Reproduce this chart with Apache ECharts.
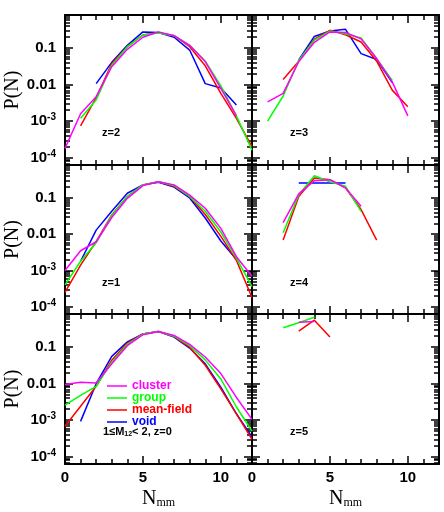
<!DOCTYPE html>
<html><head><meta charset="utf-8">
<script src="https://cdn.jsdelivr.net/npm/echarts@6/dist/echarts.min.js"></script>
<style>html,body{margin:0;padding:0;background:#fff}#c{width:444px;height:512px}</style>
</head><body><div id="c"></div>
<script>
// N_mm values (x) shared by all panels
const N = [0,1,2,3,4,5,6,7,8,9,10,11,12];

// P(N) values, index = N ; null = no point
const z2_cluster   = [1.8e-4,1.6e-3,4.7e-3,0.031,0.093,0.20,0.28,0.22,0.12,0.043,0.0079,0.0014,null];
const z2_group     = [null,1.2e-3,3.8e-3,0.034,0.11,0.23,0.26,0.22,0.12,0.044,0.0093,0.0014,1.6e-4];
const z2_meanfield = [null,7.4e-4,4.4e-3,0.038,0.11,0.23,0.27,0.22,0.11,0.033,0.0058,0.0012,2.0e-4];
const z2_void      = [null,null,0.0107,0.041,0.12,0.28,0.27,0.20,0.089,0.0107,0.0081,0.0028,null];

const z3_cluster   = [null,3.4e-3,5.8e-3,0.043,0.145,0.28,0.27,0.18,0.052,0.012,0.0014,null,null];
const z3_group     = [null,1.0e-3,4.9e-3,0.047,0.166,0.295,0.25,0.19,0.052,0.013,null,null,null];
const z3_meanfield = [null,null,0.0138,0.044,0.178,0.31,0.234,0.148,0.044,0.0071,0.0025,null,null];
const z3_void      = [null,null,null,0.048,0.21,0.295,0.33,0.071,0.049,0.0115,null,null,null];

const z1_cluster   = [1.0e-3,3.5e-3,6.2e-3,0.029,0.098,0.22,0.28,0.23,0.12,0.052,0.0145,0.0024,6.9e-4];
const z1_group     = [4.0e-4,1.8e-3,5.8e-3,0.033,0.11,0.23,0.28,0.22,0.11,0.043,0.0115,0.0022,3.6e-4];
const z1_meanfield = [2.5e-4,1.4e-3,6.3e-3,0.034,0.11,0.23,0.28,0.21,0.11,0.035,0.0087,0.0019,1.8e-4];
const z1_void      = [null,1.8e-3,0.013,0.043,0.135,0.23,0.27,0.20,0.10,0.028,0.0065,0.0020,null];

const z4_cluster   = [null,null,0.021,0.13,0.30,0.32,0.19,0.059,null,null,null,null,null];
const z4_group     = [null,null,0.011,0.123,0.41,0.28,0.21,0.043,null,null,null,null,null];
const z4_meanfield = [null,null,0.0069,0.11,0.355,0.32,0.19,0.048,0.0069,null,null,null,null];
const z4_void      = [null,null,null,0.26,0.26,0.26,0.26,null,null,null,null,null,null];

const z0_cluster   = [0.0095,0.011,0.0105,0.035,0.11,0.22,0.27,0.21,0.12,0.054,0.019,0.0042,0.00105];
const z0_group     = [0.0026,0.0048,0.0085,0.039,0.12,0.23,0.27,0.20,0.11,0.045,0.0135,0.0023,5.0e-4];
const z0_meanfield = [6.8e-4,2.4e-3,8.5e-3,0.044,0.13,0.23,0.27,0.195,0.10,0.032,0.0072,0.0015,3.0e-4];
const z0_void      = [null,9.3e-4,0.010,0.056,0.14,0.23,0.27,0.19,0.095,0.035,0.0081,0.0015,3.5e-4];

const z5_cluster   = [null,null,null,0.48,0.51,null,null,null,null,null,null,null,null];
const z5_group     = [null,null,0.34,0.47,0.66,null,null,null,null,null,null,null,null];
const z5_meanfield = [null,null,null,0.275,0.55,0.19,null,null,null,null,null,null,null];
const z5_void      = [null,null,null,null,null,null,null,null,null,null,null,null,null];

// tick labels
const yTickValues = [-4,-3,-2,-1];              // log10 P(N)
const yTickLabels = ['10{s|-4}','10{s|-3}','0.01','0.1'];
const xTickValues = [0,5,10];
const xTickLabels = ['0','5','10'];
const seriesNames = ['cluster','group','mean-field','void'];
const panelLabels = ['z=2','z=3','z=1','z=4','','z=5'];
const noteText = '{a|1≤M}{b|12}{a|< 2, z=0}';

const panelData = [
  [z2_cluster,z2_group,z2_meanfield,z2_void],
  [z3_cluster,z3_group,z3_meanfield,z3_void],
  [z1_cluster,z1_group,z1_meanfield,z1_void],
  [z4_cluster,z4_group,z4_meanfield,z4_void],
  [z0_cluster,z0_group,z0_meanfield,z0_void],
  [z5_cluster,z5_group,z5_meanfield,z5_void]
];

// ---- styling / layout ----
const COLORS = ['#ff00ff','#00ff00','#ff0000','#0000ff'];
const SANS = '"Liberation Sans", Arial, sans-serif';
const SERIF = '"Liberation Serif", "Times New Roman", serif';
const LEFTS = [65, 252], W = 187;
const TOPS = [15, 165, 314], HS = [150, 149, 150];
const YMIN = -4.2, YMAX = -0.09;

const xMinor = [1,2,3,4,6,7,8,9,11];
const yMinor = [];
for (let n = -5; n <= -1; n++) for (let k = 2; k <= 9; k++) {
  const v = n + Math.log10(k);
  if (v > YMIN && v < YMAX) yMinor.push(v);
}

const grid = [], xAxis = [], yAxis = [], series = [], graphic = [];
panelData.forEach((sets, i) => {
  const r = Math.floor(i / 2), c = i % 2;
  grid.push({left: LEFTS[c], top: TOPS[r], width: W, height: HS[r]});
  const xa = (pos, major) => {
    const lab = major && pos === 'bottom' && r === 2;
    return {
      gridIndex: i, type: 'value', min: 0, max: 12, position: pos,
      axisLine: {show: major, onZero: false, lineStyle: {color: '#000', width: 2}},
      axisTick: {show: true, inside: true, length: major ? 8 : 5,
        customValues: major ? xTickValues : xMinor, lineStyle: {color: '#000', width: 1.5}},
      axisLabel: {show: lab, customValues: xTickValues, margin: 6, color: '#000',
        fontFamily: SANS, fontWeight: 'bold', fontSize: 15,
        formatter: v => xTickLabels[xTickValues.indexOf(Math.round(v))]},
      splitLine: {show: false},
      name: lab ? '{n|N}{m|mm}' : '', nameLocation: 'middle', nameGap: 25,
      nameTextStyle: {color: '#000', rich: {
        n: {fontFamily: SERIF, fontSize: 20, lineHeight: 20, color: '#000'},
        m: {fontFamily: SERIF, fontSize: 12, lineHeight: 12, verticalAlign: 'bottom', color: '#000'}}}
    };
  };
  const ya = (pos, major) => {
    const lab = major && pos === 'left' && c === 0;
    return {
      gridIndex: i, type: 'value', min: YMIN, max: YMAX, position: pos,
      axisLine: {show: major, onZero: false, lineStyle: {color: '#000', width: 2}},
      axisTick: {show: true, inside: true, length: major ? 8 : 5,
        customValues: major ? yTickValues : yMinor, lineStyle: {color: '#000', width: 1.5}},
      axisLabel: {show: lab, customValues: yTickValues, margin: 9, color: '#000',
        fontFamily: SANS, fontWeight: 'bold', fontSize: 15, lineHeight: 17,
        formatter: v => yTickLabels[yTickValues.indexOf(Math.round(v))],
        rich: {s: {fontFamily: SANS, fontWeight: 'bold', fontSize: 10, lineHeight: 10, verticalAlign: 'top', color: '#000'}}},
      splitLine: {show: false},
      name: lab ? 'P(N)' : '', nameLocation: 'middle', nameGap: 41,
      nameTextStyle: {fontFamily: SERIF, fontSize: 20, color: '#000'}
    };
  };
  xAxis.push(xa('bottom', true), xa('bottom', false), xa('top', true), xa('top', false));
  yAxis.push(ya('left', true), ya('left', false), ya('right', true), ya('right', false));
  [3,2,1,0].forEach(k => {
    const vals = sets[k];
    const data = N.map((x, j) => vals[j] == null ? null : [x, Math.log10(vals[j])]).filter(d => d);
    series.push({
      type: 'line', name: seriesNames[k], xAxisIndex: i * 4, yAxisIndex: i * 4,
      data, symbol: 'none', silent: true,
      itemStyle: {color: COLORS[k]}, lineStyle: {color: COLORS[k], width: 1.5}
    });
  });
  if (panelLabels[i]) {
    graphic.push({type: 'text', left: c === 0 ? 102 : 290, top: TOPS[r] + 112,
      style: {text: panelLabels[i], font: 'bold 11px ' + SANS, fill: '#000'}});
  }
});

graphic.push({type: 'text', left: 103, top: 426,
  style: {text: noteText, fill: '#000', rich: {
    a: {font: 'bold 11px ' + SANS, lineHeight: 13, fill: '#000'},
    b: {font: 'bold 7px ' + SANS, lineHeight: 8, verticalAlign: 'bottom', fill: '#000'}}}});

const option = {
  animation: false,
  backgroundColor: '#fff',
  grid, xAxis, yAxis, series, graphic,
  legend: {
    left: 102, top: 375, orient: 'vertical', icon: 'rect',
    itemWidth: 20, itemHeight: 1.5, itemGap: 0, selectedMode: false,
    textStyle: {fontFamily: SANS, fontWeight: 'bold', fontSize: 12, lineHeight: 12},
    data: seriesNames.map((n, k) => ({name: n, textStyle: {color: COLORS[k]}}))
  }
};
const chart = echarts.init(document.getElementById('c'), null, {renderer: 'canvas'});
chart.setOption(option);
</script></body></html>
